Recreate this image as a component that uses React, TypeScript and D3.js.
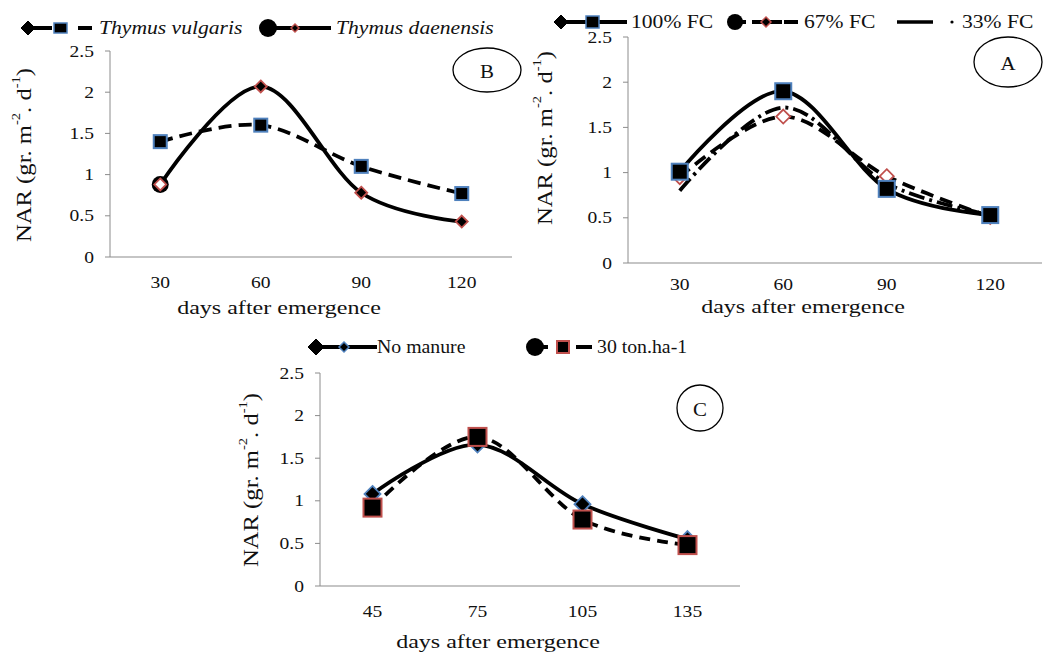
import React from 'react';
import * as d3 from 'd3';

const FONT = '"Liberation Serif", "Times New Roman", serif';

// ---- data ----
const daysAB = ['30', '60', '90', '120'];
const daysC = ['45', '75', '105', '135'];
const yTicks = [0, 0.5, 1, 1.5, 2, 2.5];
const yTickLabels = ['0', '0.5', '1', '1.5', '2', '2.5'];

const bVulgaris = [1.4, 1.6, 1.1, 0.77];
const bDaenensis = [0.88, 2.07, 0.78, 0.43];

const aFC100 = [1.01, 1.9, 0.82, 0.53];
const aFC67 = [0.95, 1.62, 0.96, 0.51];
const aFC33 = [0.8, 1.72, 0.88, 0.53];

const cNoManure = [1.08, 1.66, 0.96, 0.55];
const cManure30 = [0.92, 1.75, 0.78, 0.48];

const BLUE = '#4f81bd';
const RED = '#c0504d';
const AXIS = '#8c8c8c';

type Marker = 'sqBlue' | 'diaRed' | 'diaRedWhite' | 'diaBlue' | 'sqRed' | 'none';

function Txt(props: any) {
  const { x, y, size = 16, sx = 1.2, anchor = 'start', italic, rotate, children } = props;
  const tr = `translate(${x},${y})${rotate ? ` rotate(${rotate})` : ''} scale(${sx},1)`;
  return (
    <text transform={tr} fontSize={size} textAnchor={anchor} fontFamily={FONT}
      fontStyle={italic ? 'italic' : 'normal'} fill="#111" dominantBaseline="central">
      {children}
    </text>
  );
}

function Square({ cx, cy, s, fill, stroke, sw = 2 }: any) {
  return <rect x={cx - s / 2} y={cy - s / 2} width={s} height={s} fill={fill} stroke={stroke} strokeWidth={sw} />;
}
function Diamond({ cx, cy, r, fill, stroke, sw = 1.8 }: any) {
  return <path d={`M${cx},${cy - r}L${cx + r},${cy}L${cx},${cy + r}L${cx - r},${cy}Z`} fill={fill} stroke={stroke} strokeWidth={sw} />;
}

function drawMarker(m: Marker, cx: number, cy: number, key: string, size: number) {
  switch (m) {
    case 'sqBlue': return <Square key={key} cx={cx} cy={cy} s={size} fill="#000" stroke={BLUE} />;
    case 'sqRed': return <Square key={key} cx={cx} cy={cy} s={size} fill="#000" stroke={RED} />;
    case 'diaRed': return <Diamond key={key} cx={cx} cy={cy} r={size} fill="#000" stroke={RED} />;
    case 'diaRedWhite': return <Diamond key={key} cx={cx} cy={cy} r={size} fill="#fff" stroke={RED} />;
    case 'diaBlue': return <Diamond key={key} cx={cx} cy={cy} r={size} fill="#000" stroke={BLUE} />;
    default: return null;
  }
}

interface Series { values: number[]; dash?: string; marker: Marker; msize: number; firstCircle?: boolean; }
interface PanelCfg {
  cats: string[]; left: number; right: number; top: number; bottom: number;
  series: Series[]; ytx: number; yty: number; tickY: number; titleY: number;
  label: string; lx: number; ly: number; lrx: number; lry: number;
}

function Panel({ cfg }: { cfg: PanelCfg }) {
  const x = d3.scaleBand().domain(cfg.cats).range([cfg.left, cfg.right]);
  const y = d3.scaleLinear().domain([0, 2.5]).range([cfg.bottom, cfg.top]);
  const cx = (c: string) => (x(c) as number) + x.bandwidth() / 2;
  const line = d3.line<number>()
    .x((_, i) => cx(cfg.cats[i]))
    .y((d) => y(d))
    .curve(d3.curveCardinal.tension(0));
  return (
    <g>
      {/* axes */}
      <line x1={cfg.left} x2={cfg.left} y1={y(2.5)} y2={cfg.bottom} stroke={AXIS} strokeWidth={1} />
      <line x1={cfg.left} x2={cfg.right} y1={cfg.bottom} y2={cfg.bottom} stroke={AXIS} strokeWidth={1.2} />
      {yTicks.map((t, i) => (
        <g key={'t' + i}>
          <line x1={cfg.left - 5} x2={cfg.left} y1={y(t)} y2={y(t)} stroke={AXIS} strokeWidth={1} />
          <Txt x={cfg.left - 16} y={y(t)} size={17} sx={1.15} anchor="end">{yTickLabels[i]}</Txt>
        </g>
      ))}
      {cfg.cats.map((c) => (
        <Txt key={'c' + c} x={cx(c)} y={cfg.tickY} size={17} sx={1.15} anchor="middle">{c}</Txt>
      ))}
      <Txt x={(cfg.left + cfg.right) / 2 - 32} y={cfg.titleY} size={18.5} sx={1.3} anchor="middle">days after emergence</Txt>
      <text transform={`translate(${cfg.ytx},${cfg.yty}) rotate(-90) scale(1.12,1)`} fontSize={22} textAnchor="middle"
        fontFamily={FONT} fill="#111" dominantBaseline="central">
        NAR (gr. m<tspan fontSize={13} dy={-8}>-2</tspan><tspan dy={8}>. d</tspan><tspan fontSize={13} dy={-8}>-1</tspan><tspan dy={8}>)</tspan>
      </text>
      {/* lines */}
      {cfg.series.map((s, i) => (
        <path key={'l' + i} d={line(s.values) as string} fill="none" stroke="#000" strokeWidth={3.8}
          strokeDasharray={s.dash} strokeLinecap="butt" />
      ))}
      {/* markers */}
      {cfg.series.map((s, i) => (
        <g key={'m' + i}>
          {s.firstCircle && <circle cx={cx(cfg.cats[0])} cy={y(s.values[0])} r={8.5} fill="#000" />}
          {s.values.map((v, j) => drawMarker(s.firstCircle && j === 0 ? 'diaRedWhite' : s.marker, cx(cfg.cats[j]), y(v), `p${i}-${j}`, s.msize))}
        </g>
      ))}
      {/* panel label */}
      <ellipse cx={cfg.lx} cy={cfg.ly} rx={cfg.lrx} ry={cfg.lry} fill="#fff" stroke="#000" strokeWidth={1.3} />
      <Txt x={cfg.lx} y={cfg.ly + 1} size={19} sx={1.1} anchor="middle">{cfg.label}</Txt>
    </g>
  );
}

const panelB: PanelCfg = {
  cats: daysAB, left: 110, right: 512, top: 51, bottom: 257,
  series: [
    { values: bVulgaris, dash: '13,7', marker: 'sqBlue', msize: 13 },
    { values: bDaenensis, marker: 'diaRed', msize: 6, firstCircle: true },
  ],
  ytx: 23, yty: 155, tickY: 282, titleY: 308,
  label: 'B', lx: 487, ly: 70, lrx: 34, lry: 22,
};

const panelA: PanelCfg = {
  cats: daysAB, left: 628, right: 1042, top: 37, bottom: 263,
  series: [
    { values: aFC33, dash: '16,5,3,5', marker: 'none', msize: 0 },
    { values: aFC67, dash: '13,7', marker: 'diaRedWhite', msize: 7 },
    { values: aFC100, marker: 'sqBlue', msize: 16 },
  ],
  ytx: 544, yty: 138, tickY: 284, titleY: 307,
  label: 'A', lx: 1008, ly: 62, lrx: 34, lry: 25,
};

const panelC: PanelCfg = {
  cats: daysC, left: 320, right: 740, top: 373, bottom: 586,
  series: [
    { values: cNoManure, marker: 'diaBlue', msize: 8 },
    { values: cManure30, dash: '11,7', marker: 'sqRed', msize: 18 },
  ],
  ytx: 250, yty: 480, tickY: 611, titleY: 642,
  label: 'C', lx: 700, ly: 408, lrx: 23, lry: 23,
};

function LegendB() {
  const y = 28;
  return (
    <g>
      <Diamond cx={28} cy={y} r={7} fill="#000" stroke="#000" sw={1} />
      <line x1={28} x2={52} y1={y} y2={y} stroke="#000" strokeWidth={4} />
      <rect x={54} y={y - 5} width={13} height={10} fill="#000" stroke={BLUE} strokeWidth={1.5} />
      <line x1={78} x2={92} y1={y} y2={y} stroke="#000" strokeWidth={4} />
      <Txt x={99} y={y} size={18} sx={1.2} italic>Thymus vulgaris</Txt>
      <circle cx={268} cy={y} r={9} fill="#000" />
      <line x1={268} x2={331} y1={y} y2={y} stroke="#000" strokeWidth={4} />
      <Diamond cx={295} cy={y} r={4} fill="#000" stroke={RED} sw={1.5} />
      <Txt x={336} y={y} size={18} sx={1.2} italic>Thymus daenensis</Txt>
    </g>
  );
}

function LegendA() {
  const y = 22;
  return (
    <g>
      <Diamond cx={561} cy={y} r={7} fill="#000" stroke="#000" sw={1} />
      <line x1={561} x2={627} y1={y} y2={y} stroke="#000" strokeWidth={4} />
      <rect x={586} y={y - 6} width={13} height={12} fill="#000" stroke={BLUE} strokeWidth={1.5} />
      <Txt x={631} y={y} size={18} sx={1.2}>100% FC</Txt>
      <circle cx={735} cy={y} r={8} fill="#000" />
      <line x1={735} x2={746} y1={y} y2={y} stroke="#000" strokeWidth={4} />
      <line x1={752} x2={782} y1={y} y2={y} stroke="#000" strokeWidth={4} />
      <Diamond cx={766} cy={y} r={5} fill="#000" stroke={RED} sw={1.5} />
      <line x1={784} x2={798} y1={y} y2={y} stroke="#000" strokeWidth={4} />
      <Txt x={804} y={y} size={18} sx={1.2}>67% FC</Txt>
      <line x1={897} x2={933} y1={y} y2={y} stroke="#000" strokeWidth={3.5} />
      <circle cx={952} cy={y} r={1.6} fill="#000" />
      <Txt x={962} y={y} size={18} sx={1.2}>33% FC</Txt>
    </g>
  );
}

function LegendC() {
  const y = 347;
  return (
    <g>
      <Diamond cx={316} cy={y} r={8} fill="#000" stroke="#000" sw={1} />
      <line x1={316} x2={377} y1={y} y2={y} stroke="#000" strokeWidth={4} />
      <Diamond cx={344} cy={y} r={5} fill="#000" stroke={BLUE} sw={1.5} />
      <Txt x={377} y={y} size={18} sx={1.1}>No manure</Txt>
      <circle cx={535} cy={y} r={9} fill="#000" />
      <line x1={535} x2={548} y1={y} y2={y} stroke="#000" strokeWidth={4} />
      <rect x={557} y={y - 6} width={12} height={12} fill="#000" stroke={RED} strokeWidth={2} />
      <line x1={576} x2={592} y1={y} y2={y} stroke="#000" strokeWidth={4} />
      <Txt x={597} y={y} size={18} sx={1.1}>30 ton.ha-1</Txt>
    </g>
  );
}

export default function App() {
  return (
    <svg width={1048} height={654} style={{ position: 'absolute', left: 0, top: 0, background: '#fff' }}>
      <rect x={0} y={0} width={1048} height={654} fill="#fff" />
      <Panel cfg={panelB} />
      <Panel cfg={panelA} />
      <Panel cfg={panelC} />
      <LegendB />
      <LegendA />
      <LegendC />
    </svg>
  );
}
